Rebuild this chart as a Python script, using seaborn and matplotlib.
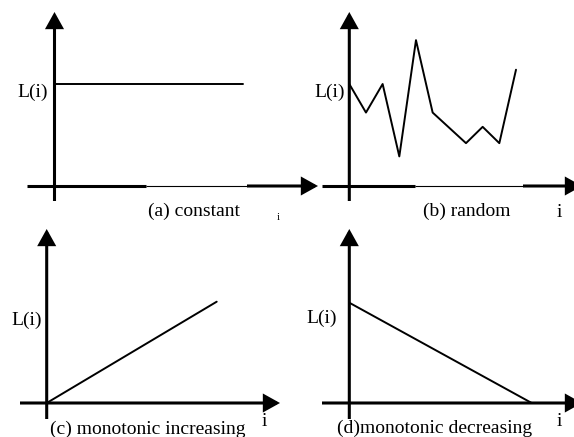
import matplotlib
matplotlib.use("Agg")
import matplotlib.pyplot as plt
import seaborn as sns
import numpy as np

# ---------------- data ----------------
const_i = [0, 10]
const_L = [1.0, 1.0]

rand_i = [0, 1, 2, 3, 4, 5, 7, 8, 9, 10]
rand_L = [1.0, 0.72, 1.0, 0.29, 1.43, 0.72, 0.42, 0.58, 0.42, 1.14]

inc_i = [0, 10]
inc_L = [0.0, 1.0]

dec_i = [0, 10]
dec_L = [1.0, 0.0]

captions = ["(a) constant", "(b) random", "(c) monotonic increasing", "(d)monotonic decreasing"]
ylabel = "L(i)"
xlabel = "i"

# ---------------- style ----------------
sns.set_theme(style="white")
plt.rcParams["font.family"] = ["Liberation Serif", "DejaVu Serif"]

W, H = 574, 437
fig = plt.figure(figsize=(W / 100, H / 100), dpi=100)
fig.patch.set_facecolor("white")

AX_LW = 2.2
DATA_LW = 1.4
FS = 14


def panel(box, origin, scale, thin=None):
    left, right, top, bottom = box
    ox, oy = origin
    sx, sy = scale
    ax = fig.add_axes([left / W, 1 - bottom / H, (right - left) / W, (bottom - top) / H])
    ax.set_xlim((left - ox) / sx, (right - ox) / sx)
    ax.set_ylim((oy - bottom) / sy, (oy - top) / sy)
    ax.axis("off")
    x0, x1 = ax.get_xlim()
    y0, y1 = ax.get_ylim()
    arrow = dict(arrowstyle="-|>,head_length=9,head_width=5", mutation_scale=1,
                 color="black", lw=AX_LW, shrinkA=0, shrinkB=0,
                 joinstyle="miter", capstyle="butt")
    # x axis
    if thin is not None:
        t0, t1 = (thin[0] - ox) / sx, (thin[1] - ox) / sx
        ax.plot([x0, t0], [0, 0], color="black", lw=AX_LW, solid_capstyle="butt", clip_on=False)
        ax.plot([t0, t1], [0, 0], color="black", lw=0.8, solid_capstyle="butt", clip_on=False)
        ax.annotate("", xy=(x1, 0), xytext=(t1, 0), arrowprops=arrow, annotation_clip=False)
    else:
        ax.annotate("", xy=(x1, 0), xytext=(x0, 0), arrowprops=arrow, annotation_clip=False)
    # y axis
    ax.annotate("", xy=(0, y1), xytext=(0, y0), arrowprops=arrow, annotation_clip=False)
    return ax


ax_a = panel((27, 318, 12, 201), (54.5, 186), (18.85, 102), thin=(146, 247))
ax_b = panel((322, 582, 12, 201), (349.3, 186), (16.67, 102), thin=(415, 523))
ax_c = panel((20, 280, 229, 419), (46.7, 403), (17.0, 101.3))
ax_d = panel((322, 582, 229, 419), (349.3, 403), (18.24, 100.3))

for ax, xi, yl in [(ax_a, const_i, const_L), (ax_b, rand_i, rand_L),
                   (ax_c, inc_i, inc_L), (ax_d, dec_i, dec_L)]:
    sns.lineplot(x=xi, y=yl, ax=ax, color="black", linewidth=DATA_LW,
                 estimator=None, sort=False, clip_on=False)
    ax.set_xlabel("")
    ax.set_ylabel("")


def ptext(px, py, s, ha="left", size=FS):
    fig.text(px / W, 1 - py / H, s, ha=ha, va="baseline", fontsize=size, color="black")


# L(i) labels (right edge, baseline)
ptext(48, 97, ylabel, ha="right")
ptext(345, 97, ylabel, ha="right")
ptext(42, 325, ylabel, ha="right")
ptext(337, 323, ylabel, ha="right")

# captions
ptext(148, 216, captions[0])
ptext(423, 216, captions[1])
ptext(50, 434, captions[2])
ptext(337, 433, captions[3])

# i labels
ptext(277, 220, xlabel, size=8)
ptext(557, 217, xlabel)
ptext(262, 426, xlabel)
ptext(557, 426, xlabel)

fig.savefig("out.png", dpi=100, facecolor="white")
